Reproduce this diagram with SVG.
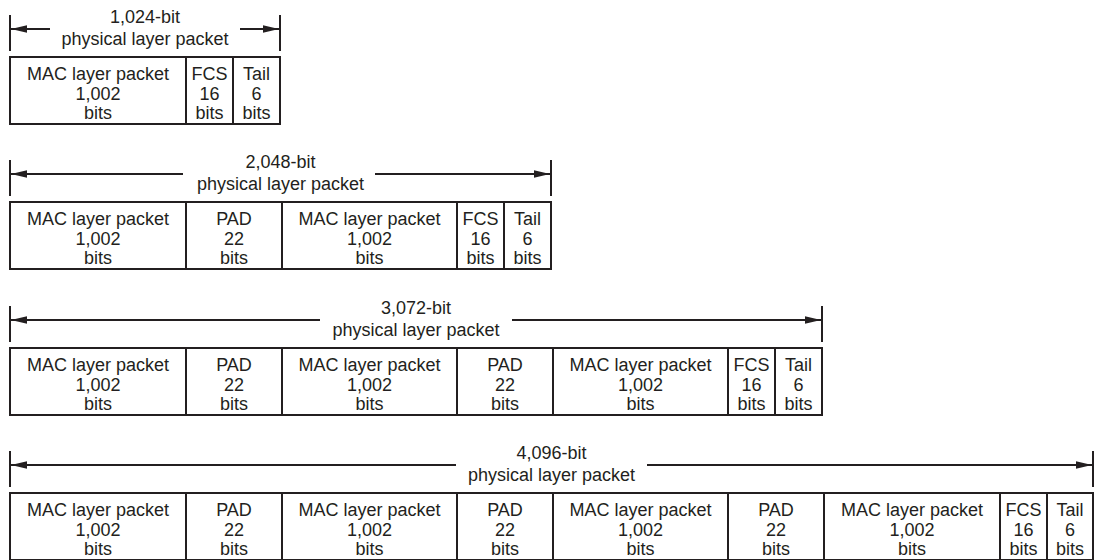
<svg xmlns="http://www.w3.org/2000/svg" width="1095" height="560" viewBox="0 0 1095 560">
<style>
text{font-family:"Liberation Sans",Arial,sans-serif;font-size:18px;fill:#231f20;text-anchor:middle}
.cell{fill:#fff;stroke:#231f20;stroke-width:2}
.bar{stroke:#231f20;stroke-width:2}
.arr{stroke:#231f20;stroke-width:1.8;fill:none;marker-end:url(#ah)}
</style>
<defs>
<marker id="ah" markerUnits="userSpaceOnUse" markerWidth="17" markerHeight="9" refX="16" refY="4" orient="auto">
<path d="M0,0.3 L16,4 L0,7.7 z" fill="#231f20"/>
</marker>
</defs>
<rect width="1095" height="560" fill="#fff"/>

<g id="connectors">
<!-- row 1 -->
<line class="bar" x1="10" y1="15" x2="10" y2="51"/>
<line class="bar" x1="280" y1="15" x2="280" y2="51"/>
<line class="arr" x1="50" y1="29" x2="11" y2="29"/>
<line class="arr" x1="240" y1="29" x2="279" y2="29"/>
<!-- row 2 -->
<line class="bar" x1="10" y1="160" x2="10" y2="196"/>
<line class="bar" x1="551" y1="160" x2="551" y2="196"/>
<line class="arr" x1="183" y1="174" x2="11" y2="174"/>
<line class="arr" x1="375" y1="174" x2="550" y2="174"/>
<!-- row 3 -->
<line class="bar" x1="10" y1="306" x2="10" y2="342"/>
<line class="bar" x1="822" y1="306" x2="822" y2="342"/>
<line class="arr" x1="320" y1="320" x2="11" y2="320"/>
<line class="arr" x1="512" y1="320" x2="821" y2="320"/>
<!-- row 4 -->
<line class="bar" x1="10" y1="451" x2="10" y2="487"/>
<line class="bar" x1="1093" y1="451" x2="1093" y2="487"/>
<line class="arr" x1="456" y1="465" x2="11" y2="465"/>
<line class="arr" x1="647" y1="465" x2="1092" y2="465"/>
</g>

<g id="label1"><text x="145" y="23">1,024-bit</text><text x="145" y="45">physical layer packet</text></g>
<g id="label2"><text x="280.5" y="168">2,048-bit</text><text x="280.5" y="190">physical layer packet</text></g>
<g id="label3"><text x="416" y="314">3,072-bit</text><text x="416" y="336">physical layer packet</text></g>
<g id="label4"><text x="551.5" y="459">4,096-bit</text><text x="551.5" y="481">physical layer packet</text></g>

<!-- Row 1 -->
<g id="r1-mac1"><rect class="cell" x="10" y="57" width="176" height="67"/><text x="98" y="80">MAC layer packet</text><text x="98" y="100">1,002</text><text x="98" y="119">bits</text></g>
<g id="r1-fcs"><rect class="cell" x="186" y="57" width="47" height="67"/><text x="209.5" y="80">FCS</text><text x="209.5" y="100">16</text><text x="209.5" y="119">bits</text></g>
<g id="r1-tail"><rect class="cell" x="233" y="57" width="47" height="67"/><text x="256.5" y="80">Tail</text><text x="256.5" y="100">6</text><text x="256.5" y="119">bits</text></g>

<!-- Row 2 -->
<g id="r2-mac1"><rect class="cell" x="10" y="202" width="176" height="67"/><text x="98" y="225">MAC layer packet</text><text x="98" y="245">1,002</text><text x="98" y="264">bits</text></g>
<g id="r2-pad1"><rect class="cell" x="186" y="202" width="96" height="67"/><text x="234" y="225">PAD</text><text x="234" y="245">22</text><text x="234" y="264">bits</text></g>
<g id="r2-mac2"><rect class="cell" x="282" y="202" width="175" height="67"/><text x="369.5" y="225">MAC layer packet</text><text x="369.5" y="245">1,002</text><text x="369.5" y="264">bits</text></g>
<g id="r2-fcs"><rect class="cell" x="457" y="202" width="47" height="67"/><text x="480.5" y="225">FCS</text><text x="480.5" y="245">16</text><text x="480.5" y="264">bits</text></g>
<g id="r2-tail"><rect class="cell" x="504" y="202" width="47" height="67"/><text x="527.5" y="225">Tail</text><text x="527.5" y="245">6</text><text x="527.5" y="264">bits</text></g>

<!-- Row 3 -->
<g id="r3-mac1"><rect class="cell" x="10" y="348" width="176" height="67"/><text x="98" y="371">MAC layer packet</text><text x="98" y="391">1,002</text><text x="98" y="410">bits</text></g>
<g id="r3-pad1"><rect class="cell" x="186" y="348" width="96" height="67"/><text x="234" y="371">PAD</text><text x="234" y="391">22</text><text x="234" y="410">bits</text></g>
<g id="r3-mac2"><rect class="cell" x="282" y="348" width="175" height="67"/><text x="369.5" y="371">MAC layer packet</text><text x="369.5" y="391">1,002</text><text x="369.5" y="410">bits</text></g>
<g id="r3-pad2"><rect class="cell" x="457" y="348" width="96" height="67"/><text x="505" y="371">PAD</text><text x="505" y="391">22</text><text x="505" y="410">bits</text></g>
<g id="r3-mac3"><rect class="cell" x="553" y="348" width="175" height="67"/><text x="640.5" y="371">MAC layer packet</text><text x="640.5" y="391">1,002</text><text x="640.5" y="410">bits</text></g>
<g id="r3-fcs"><rect class="cell" x="728" y="348" width="47" height="67"/><text x="751.5" y="371">FCS</text><text x="751.5" y="391">16</text><text x="751.5" y="410">bits</text></g>
<g id="r3-tail"><rect class="cell" x="775" y="348" width="47" height="67"/><text x="798.5" y="371">Tail</text><text x="798.5" y="391">6</text><text x="798.5" y="410">bits</text></g>

<!-- Row 4 -->
<g id="r4-mac1"><rect class="cell" x="10" y="493" width="176" height="67"/><text x="98" y="516">MAC layer packet</text><text x="98" y="536">1,002</text><text x="98" y="555">bits</text></g>
<g id="r4-pad1"><rect class="cell" x="186" y="493" width="96" height="67"/><text x="234" y="516">PAD</text><text x="234" y="536">22</text><text x="234" y="555">bits</text></g>
<g id="r4-mac2"><rect class="cell" x="282" y="493" width="175" height="67"/><text x="369.5" y="516">MAC layer packet</text><text x="369.5" y="536">1,002</text><text x="369.5" y="555">bits</text></g>
<g id="r4-pad2"><rect class="cell" x="457" y="493" width="96" height="67"/><text x="505" y="516">PAD</text><text x="505" y="536">22</text><text x="505" y="555">bits</text></g>
<g id="r4-mac3"><rect class="cell" x="553" y="493" width="175" height="67"/><text x="640.5" y="516">MAC layer packet</text><text x="640.5" y="536">1,002</text><text x="640.5" y="555">bits</text></g>
<g id="r4-pad3"><rect class="cell" x="728" y="493" width="96" height="67"/><text x="776" y="516">PAD</text><text x="776" y="536">22</text><text x="776" y="555">bits</text></g>
<g id="r4-mac4"><rect class="cell" x="824" y="493" width="176" height="67"/><text x="912" y="516">MAC layer packet</text><text x="912" y="536">1,002</text><text x="912" y="555">bits</text></g>
<g id="r4-fcs"><rect class="cell" x="1000" y="493" width="47" height="67"/><text x="1023.5" y="516">FCS</text><text x="1023.5" y="536">16</text><text x="1023.5" y="555">bits</text></g>
<g id="r4-tail"><rect class="cell" x="1047" y="493" width="46" height="67"/><text x="1070" y="516">Tail</text><text x="1070" y="536">6</text><text x="1070" y="555">bits</text></g>
</svg>
